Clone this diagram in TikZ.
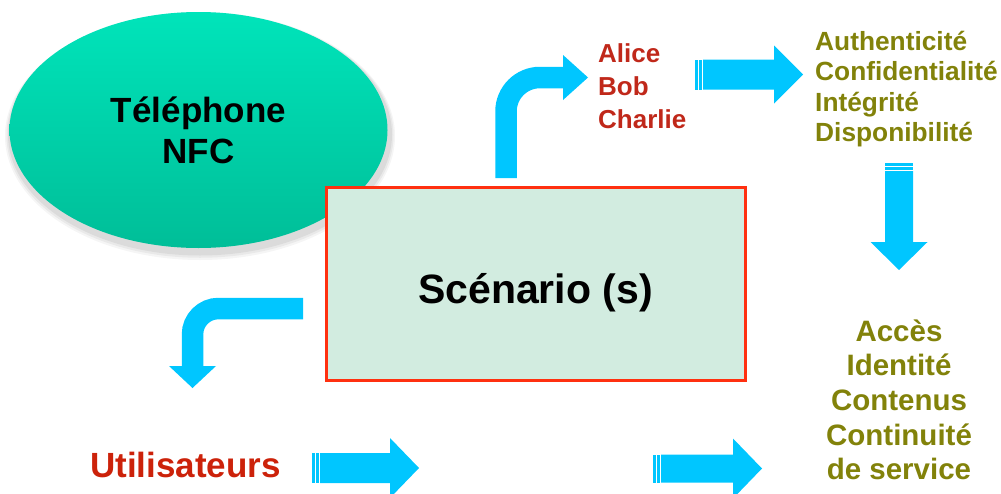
\documentclass[tikz,border=0pt]{standalone}
\usepackage{fontspec}
\setmainfont{Liberation Sans}
\usetikzlibrary{shapes.geometric}
\definecolor{arrowblue}{RGB}{0,198,255}
\definecolor{tealtop}{RGB}{0,228,186}
\definecolor{tealbot}{RGB}{0,190,152}
\definecolor{boxfill}{RGB}{210,236,224}
\definecolor{boxred}{RGB}{255,48,16}
\definecolor{namered}{RGB}{192,40,26}
\definecolor{userred}{RGB}{204,34,10}
\definecolor{olivetxt}{RGB}{130,130,10}
\newcommand{\sarrowR}[6]{%
  \fill[arrowblue] (#1,#2-#5) rectangle ++(2.5,2*#5);
  \fill[arrowblue] (#1+4,#2-#5) rectangle ++(2.5,2*#5);
  \fill[arrowblue] (#1+8,#2-#5) -- (#3,#2-#5) -- (#3,#2-#6) -- (#4,#2) -- (#3,#2+#6) -- (#3,#2+#5) -- (#1+8,#2+#5) -- cycle;
}
\newcommand{\sarrowD}[6]{%
  \fill[arrowblue] (#2-#5,#1) rectangle ++(2*#5,2.5);
  \fill[arrowblue] (#2-#5,#1+4) rectangle ++(2*#5,2.5);
  \fill[arrowblue] (#2-#5,#1+8) -- (#2-#5,#3) -- (#2-#6,#3) -- (#2,#4) -- (#2+#6,#3) -- (#2+#5,#3) -- (#2+#5,#1+8) -- cycle;
}
\begin{document}
\begin{tikzpicture}[x=1pt,y=-1pt,
  bigblack/.style={font=\fontsize{35}{41}\selectfont\bfseries, text=black, inner sep=0},
  names/.style={font=\fontsize{26}{33}\selectfont\bfseries, text=namered, inner sep=0, anchor=base west},
  props/.style={font=\fontsize{26.3}{31}\selectfont\bfseries, text=olivetxt, inner sep=0, anchor=base west},
  goals/.style={font=\fontsize{29.5}{34}\selectfont\bfseries, text=olivetxt, inner sep=0, anchor=base},
  bent/.style={draw=arrowblue, line width=21.5, line cap=butt}
]
\useasboundingbox (0,0) rectangle (1001,493);
% shadow of the ellipse
\foreach \o/\a in {6/0.04,4.5/0.05,3/0.06}{
  \fill[black, opacity=\a] (200,133+\o/2) ellipse ({189+\o} and {118+\o});
}
\node[ellipse, minimum width=378, minimum height=236, inner sep=0, top color=tealtop, bottom color=tealbot, draw=none] (tel) at (198.5,130) {};
\node[bigblack, anchor=base] (tel1) at (198.5,122) {Téléphone};
\node[bigblack, anchor=base] (tel2) at (198.5,163) {NFC};

% scenario box
\node[rectangle, draw=boxred, line width=3, fill=boxfill, minimum width=419, minimum height=193, inner sep=0] (scen) at (535.5,283.5) {};
\node[font=\fontsize{41}{48}\selectfont\bfseries, text=black, inner sep=0, anchor=base] (scent) at (535.5,303) {Scénario (s)};

% names
\node[names] (alice) at (598,62) {Alice};
\node[names] (bob) at (598,95) {Bob};
\node[names] (charlie) at (598,128) {Charlie};

% properties
\node[props] (p1) at (815,50) {Authenticité};
\node[props] (p2) at (815,80.5) {Confidentialité};
\node[props] (p3) at (815,111) {Intégrité};
\node[props] (p4) at (815,141.5) {Disponibilité};

% goals
\node[goals] (g1) at (899,341) {Accès};
\node[goals] (g2) at (899,375) {Identité};
\node[goals] (g3) at (899,410) {Contenus};
\node[goals] (g4) at (899,445) {Continuité};
\node[goals] (g5) at (899,479) {de service};

% users
\node[font=\fontsize{35}{41}\selectfont\bfseries, text=userred, inner sep=0, anchor=base west] (users) at (90,477) {Utilisateurs};

% bent arrow up to the names
\coordinate (tbS) at (506,178);
\coordinate (tbE) at (564,77.5);
\draw[bent, rounded corners=34] (tbS) |- (tbE);
\fill[arrowblue] (563,55) -- (588,77.5) -- (563,100) -- cycle;

% bent arrow down to the users
\coordinate (lbS) at (303,308.5);
\coordinate (lbE) at (192.5,367);
\draw[bent, rounded corners=26] (lbS) -| (lbE);
\fill[arrowblue] (169,366) -- (192.5,388) -- (216,366) -- cycle;

% striped arrows
\sarrowR{695}{74.5}{774}{803}{15}{29}
\sarrowD{163}{899}{242}{270}{14}{28.5}
\sarrowR{312}{468}{390}{419}{15}{30}
\sarrowR{653}{468.5}{733}{762}{14}{30}
\end{tikzpicture}
\end{document}
